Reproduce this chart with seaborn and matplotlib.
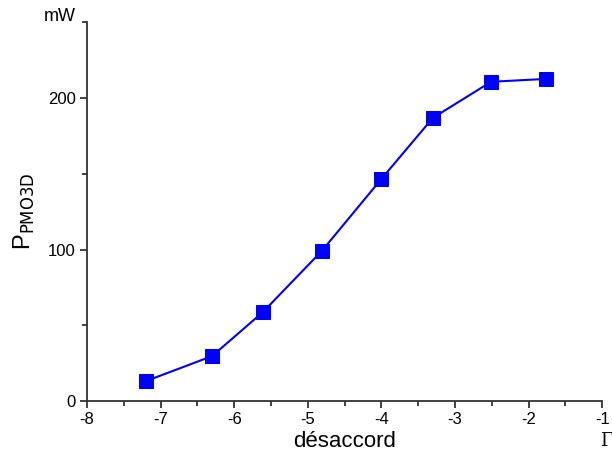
import numpy as np
import pandas as pd
import matplotlib
matplotlib.use("Agg")
import matplotlib.pyplot as plt
from matplotlib.ticker import MultipleLocator
import seaborn as sns

detuning = [-7.20, -6.30, -5.61, -4.81, -4.00, -3.30, -2.51, -1.76]
power = [13.2, 29.7, 58.7, 99.0, 146.5, 186.8, 210.6, 212.5]
x_ticks = [-8, -7, -6, -5, -4, -3, -2, -1]
y_ticks = [0, 100, 200]

sns.set_style("ticks")
plt.rcParams['font.family'] = ['Liberation Sans', 'DejaVu Sans']
plt.rcParams['text.color'] = 'black'
plt.rcParams['axes.labelcolor'] = 'black'
plt.rcParams['xtick.color'] = 'black'
plt.rcParams['ytick.color'] = 'black'

df = pd.DataFrame({"x": detuning, "y": power})

fig = plt.figure(figsize=(6.12, 4.59), dpi=100)
ax = fig.add_axes([0.142, 0.126, 0.842, 0.826])

sns.lineplot(data=df, x="x", y="y", ax=ax, color="#0000ff", linewidth=1.5,
             marker="s", markersize=9.5, markeredgecolor="#0000ff",
             markerfacecolor="#0000ff", sort=False)

ax.set_xlim(-8, -1)
ax.set_ylim(0, 250)
ax.set_xticks(x_ticks)
ax.set_yticks(y_ticks)
ax.set_xticklabels([str(v) for v in x_ticks])
ax.set_yticklabels([str(v) for v in y_ticks])
ax.xaxis.set_minor_locator(MultipleLocator(0.5))
ax.yaxis.set_minor_locator(MultipleLocator(50))
ax.tick_params(which="major", direction="out", length=5, width=1.2, labelsize=12, pad=3, color="#222222")
ax.tick_params(which="minor", direction="out", length=3.5, width=1.2, color="#222222")

for s in ["top", "right"]:
    ax.spines[s].set_visible(False)
for s in ["left", "bottom"]:
    ax.spines[s].set_linewidth(1.3)
    ax.spines[s].set_color("#333333")

ax.set_xlabel("désaccord", fontsize=16, labelpad=3)
ax.set_ylabel(r"P$_{\mathrm{PMO3D}}$", fontsize=17, labelpad=8)
fig.text(0.098, 0.965, "mW", fontsize=13, ha="center", va="center")
fig.text(0.990, 0.04, "Γ", fontsize=13, ha="center", va="center", family="DejaVu Serif")

fig.savefig("out.png", dpi=100)
